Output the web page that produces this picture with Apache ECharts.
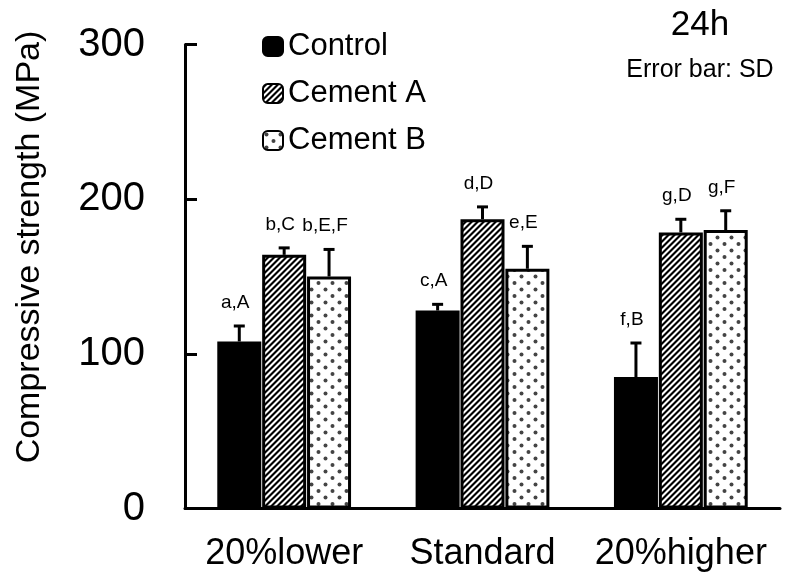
<!DOCTYPE html>
<html>
<head>
<meta charset="utf-8">
<script src="https://cdn.jsdelivr.net/npm/echarts@6/dist/echarts.min.js"></script>
<style>
html,body{margin:0;padding:0;background:#fff;}
#chart{width:806px;height:576px;}
</style>
</head>
<body>
<div id="chart"></div>
<script>
var categories = ['20%lower', 'Standard', '20%higher'];
var seriesNames = ['Control', 'Cement A', 'Cement B'];
var controlValues = [108, 128, 85];
var controlSD = [10, 4, 22];
var cementAValues = [164, 187, 178.5];
var cementASD = [4.5, 8, 8.5];
var cementBValues = [150, 155, 180];
var cementBSD = [17.5, 14.5, 12.5];
var controlLetters = ['a,A', 'c,A', 'f,B'];
var cementALetters = ['b,C', 'd,D', 'g,D'];
var cementBLetters = ['b,E,F', 'e,E', 'g,F'];
var yTicks = [0, 100, 200, 300];

var FONT = '"Liberation Sans", Arial, sans-serif';

function hatchCanvas() {
  var s = 6, c = document.createElement('canvas');
  c.width = s; c.height = s;
  var ctx = c.getContext('2d');
  var img = ctx.createImageData(s, s);
  for (var j = 0; j < s; j++) {
    for (var i = 0; i < s; i++) {
      var v = 0.5 + 0.5 * Math.cos(2 * Math.PI * (i + j + 0.5) / s);
      v = Math.max(0, Math.min(1, (v - 0.5) * 1.8 + 0.5));
      var g = Math.round(v * 255);
      var k = (j * s + i) * 4;
      img.data[k] = g; img.data[k + 1] = g; img.data[k + 2] = g; img.data[k + 3] = 255;
    }
  }
  ctx.putImageData(img, 0, 0);
  return c;
}
function dotCanvas() {
  var w = 14, h = 13, c = document.createElement('canvas');
  c.width = w; c.height = h;
  var ctx = c.getContext('2d');
  ctx.fillStyle = '#fff';
  ctx.fillRect(0, 0, w, h);
  ctx.fillStyle = '#444';
  [[3.5, 3.5], [10.5, 10]].forEach(function (p) {
    ctx.beginPath();
    ctx.arc(p[0], p[1], 2, 0, Math.PI * 2);
    ctx.fill();
  });
  return c;
}
var hatch = { image: hatchCanvas(), repeat: 'repeat' };
var dots = { image: dotCanvas(), repeat: 'repeat' };

var groups = [
  { name: seriesNames[0], values: controlValues, sd: controlSD, letters: controlLetters, color: '#000' },
  { name: seriesNames[1], values: cementAValues, sd: cementASD, letters: cementALetters, color: hatch },
  { name: seriesNames[2], values: cementBValues, sd: cementBSD, letters: cementBLetters, color: dots }
];

var BAR_W = 44;
var series = [];
groups.forEach(function (g, gi) {
  series.push({
    name: g.name,
    type: 'bar',
    barWidth: BAR_W,
    barGap: '2%',
    barCategoryGap: '32%',
    data: g.values,
    itemStyle: { color: g.color, borderColor: '#000', borderWidth: 3 },
    z: 2
  });
});
groups.forEach(function (g, gi) {
  series.push({
    type: 'custom',
    name: g.name + ' err',
    z: 5,
    silent: true,
    data: g.values.map(function (v, i) { return [i, v, g.sd[i]]; }),
    encode: { x: 0, y: 1 },
    renderItem: function (params, api) {
      var cat = api.value(0), v = api.value(1), sd = api.value(2);
      var off = (gi - 1) * BAR_W * 1.02;
      var base = api.coord([cat, v]);
      var top = api.coord([cat, v + sd]);
      var x = base[0] + off;
      var letter = g.letters[params.dataIndex];
      return {
        type: 'group',
        children: [
          { type: 'line', shape: { x1: x, y1: base[1], x2: x, y2: top[1] }, style: { stroke: '#000', lineWidth: 3 } },
          { type: 'line', shape: { x1: x - 5.5, y1: top[1], x2: x + 5.5, y2: top[1] }, style: { stroke: '#000', lineWidth: 3 } },
          { type: 'text', style: { text: letter, x: x - 4, y: top[1] - 14, align: 'center', verticalAlign: 'bottom', font: '19px ' + FONT, fill: '#000' } }
        ]
      };
    }
  });
});

var chart = echarts.init(document.getElementById('chart'), null, { renderer: 'canvas' });
chart.setOption({
  backgroundColor: '#fff',
  animation: false,
  textStyle: { fontFamily: FONT, color: '#000' },
  grid: { left: 185, right: 26, top: 44.5, bottom: 67.5, containLabel: false, outerBoundsMode: 'none' },
  legend: {
    data: seriesNames,
    orient: 'vertical',
    left: 257,
    top: 26,
    itemWidth: 20,
    itemHeight: 19,
    itemGap: 16,
    icon: 'roundRect',
    textStyle: { fontSize: 31, fontFamily: FONT, color: '#000', lineHeight: 31 },
    selectedMode: false
  },
  xAxis: {
    type: 'category',
    data: categories,
    axisLine: { show: true, lineStyle: { color: '#000', width: 3 } },
    axisTick: { show: false },
    axisLabel: { fontSize: 36, color: '#000', margin: 28, fontFamily: FONT, interval: 0, hideOverlap: false },
    splitLine: { show: false }
  },
  yAxis: {
    type: 'value',
    min: yTicks[0],
    max: yTicks[yTicks.length - 1],
    interval: yTicks[1] - yTicks[0],
    axisLine: { show: true, lineStyle: { color: '#000', width: 3 } },
    axisTick: { show: true, inside: true, length: 12, lineStyle: { color: '#000', width: 3 } },
    axisLabel: { fontSize: 40, color: '#000', margin: 40, fontFamily: FONT },
    splitLine: { show: false }
  },
  graphic: [
    { type: 'text', x: 30, y: 247, rotation: Math.PI / 2, style: { text: 'Compressive strength (MPa)', font: '34px ' + FONT, fill: '#000', align: 'center', verticalAlign: 'middle' } },
    { type: 'text', x: 700, y: 25, style: { text: '24h', font: '35px ' + FONT, fill: '#000', align: 'center', verticalAlign: 'middle' } },
    { type: 'text', x: 700, y: 70, style: { text: 'Error bar: SD', font: '25px ' + FONT, fill: '#000', align: 'center', verticalAlign: 'middle' } }
  ],
  series: series
});
</script>
</body>
</html>
